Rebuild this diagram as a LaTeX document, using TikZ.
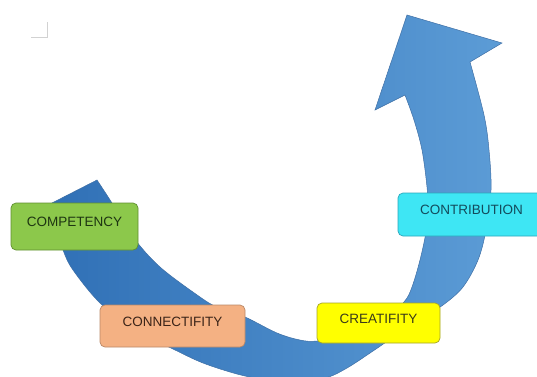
\documentclass[tikz,border=0pt]{standalone}
\usepackage{fontspec}
\setmainfont{Liberation Sans}
\begin{document}
\begin{tikzpicture}[x=1pt,y=-1pt,
  tag/.style={draw, rounded corners=5pt, line width=0.7pt,
    text height=4pt, text depth=4pt, inner sep=0pt,
    font=\fontsize{13.5}{14}\selectfont},
  greentag/.style={tag, fill=grfill, draw=grline, text=grtext},
  salmontag/.style={tag, fill=safill, draw=saline, text=satext},
  yellowtag/.style={tag, fill=yefill, draw=yeline, text=yetext},
  cyantag/.style={tag, fill=cyfill, draw=cyline, text=cytext}]
\definecolor{arrowdark}{HTML}{3070B6}
\definecolor{arrowlight}{HTML}{5C9CD6}
\definecolor{arrowline}{HTML}{3F6FA5}
\definecolor{grfill}{HTML}{8CC84B}
\definecolor{grline}{HTML}{5F8F30}
\definecolor{grtext}{HTML}{1E3512}
\definecolor{safill}{HTML}{F4B183}
\definecolor{saline}{HTML}{B98867}
\definecolor{satext}{HTML}{3B2418}
\definecolor{yefill}{HTML}{FFFF00}
\definecolor{yeline}{HTML}{A3A32A}
\definecolor{yetext}{HTML}{3A3A1A}
\definecolor{cyfill}{HTML}{3EE6F4}
\definecolor{cyline}{HTML}{2BA6BB}
\definecolor{cytext}{HTML}{134B5C}

\useasboundingbox (0,0) rectangle (537,376);
\clip (0,0) rectangle (537,376);

% small corner mark
\draw[gray!35, line width=0.8pt] (31,37) -- (47.5,37) -- (47.5,22);

% curved arrow band: outer rim, head, inner rim
\path[left color=arrowdark, right color=arrowlight, draw=arrowline, line width=0.5pt]
  (52,203)
  -- plot[smooth, tension=0.55] coordinates {(52,203) (56,226) (63,250) (73,270) (100,303)
      (135,330) (173,349) (203,363) (237,374) (262,379) (292,381) (325,378) (347,368)
      (373,351) (392,338) (416,322) (443,305) (463,287) (478,260) (486,230)
      (491,190) (489,150) (484,115) (470,62)}
  -- (502,43) -- (407,15) -- (375,110)
  -- plot[smooth, tension=0.55] coordinates {(405,95) (414,120) (422,150) (427,187)
      (428,210) (426,232) (420,260) (412,287) (404,302) (382,322) (352,335) (317,341)
      (300,340) (277,333) (245,317) (217,307) (200,297) (160,267) (133,237)
      (112,203) (97,180)}
  -- cycle;

% labels
\node[greentag, minimum width=127pt, minimum height=47pt] (competency) at (74.5,226.5) {COMPETENCY};
\node[salmontag, minimum width=145pt, minimum height=42pt] (connectifity) at (172.5,326) {CONNECTIFITY};
\node[yellowtag, minimum width=123pt, minimum height=40pt] (creatifity) at (378.5,323) {CREATIFITY};
\node[cyantag, minimum width=147pt, minimum height=43pt] (contribution) at (471.5,214.5) {CONTRIBUTION};
\end{tikzpicture}
\end{document}
